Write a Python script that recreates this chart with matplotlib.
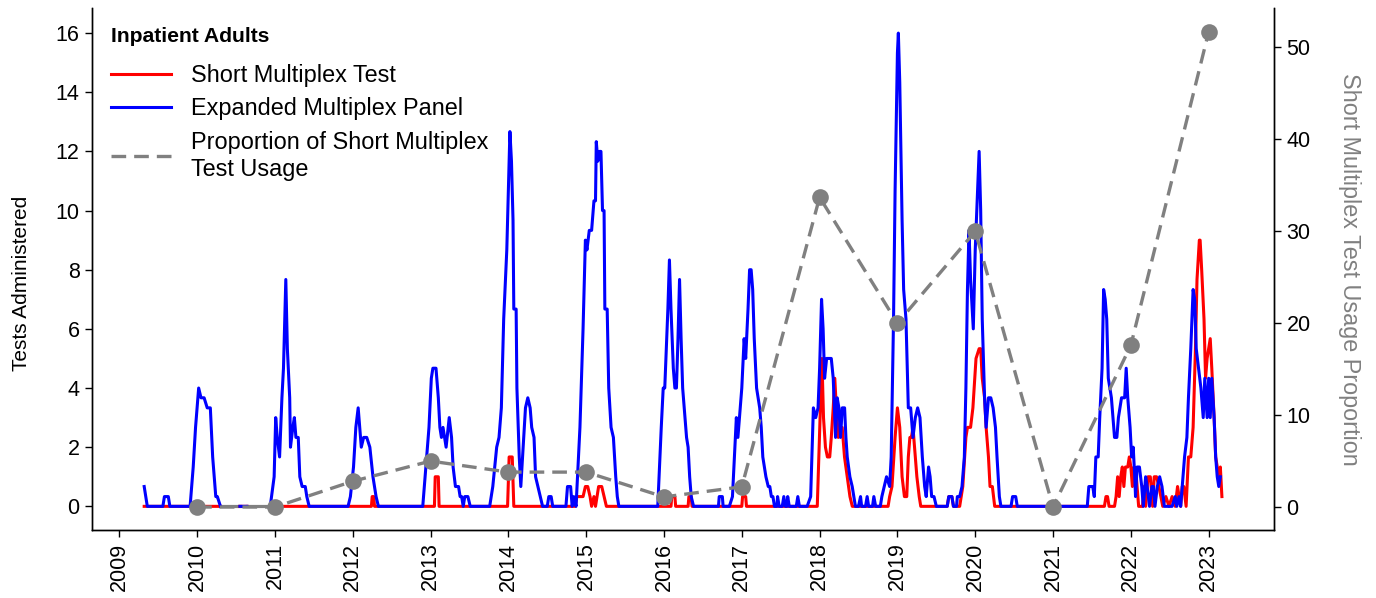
import numpy as np
import matplotlib
matplotlib.use("Agg")
import matplotlib.pyplot as plt
from matplotlib.lines import Line2D

plt.rcParams['font.family'] = ['Liberation Sans', 'DejaVu Sans']

# ---------------- data (decimal year, value) ----------------
# Expanded Multiplex Panel (weekly tests, smoothed)
blue_t = [2009.32, 2009.36, 2009.56, 2009.58, 2009.63, 2009.65, 2009.91, 2009.95, 2009.98, 2010.02,
          2010.05, 2010.09, 2010.13, 2010.17, 2010.20, 2010.24, 2010.26, 2010.30, 2010.31,
          2010.55, 2010.64, 2010.65,
          2010.94, 2010.99, 2011.01, 2011.03, 2011.06, 2011.09, 2011.11, 2011.14, 2011.16, 2011.19,
          2011.20, 2011.23, 2011.25, 2011.27, 2011.30, 2011.32, 2011.35, 2011.39, 2011.41, 2011.44,
          2011.94, 2011.97, 2012.01, 2012.04, 2012.07, 2012.11, 2012.14, 2012.18, 2012.22, 2012.26,
          2012.30, 2012.33,
          2012.90, 2012.95, 2012.98, 2013.01, 2013.03, 2013.07, 2013.10, 2013.12, 2013.14, 2013.16,
          2013.18, 2013.20, 2013.24, 2013.27, 2013.29, 2013.32, 2013.36, 2013.38, 2013.40, 2013.42,
          2013.44, 2013.48, 2013.51,
          2013.76, 2013.80, 2013.85, 2013.88, 2013.91, 2013.94, 2013.98, 2014.00, 2014.02, 2014.04,
          2014.06, 2014.07, 2014.10, 2014.11, 2014.14, 2014.16, 2014.19, 2014.22, 2014.25, 2014.28,
          2014.30, 2014.33, 2014.35, 2014.38, 2014.41, 2014.44, 2014.50, 2014.52, 2014.55, 2014.57,
          2014.74, 2014.76, 2014.80, 2014.82, 2014.84, 2014.87,
          2014.92, 2014.96, 2014.99, 2015.01, 2015.04, 2015.07, 2015.10, 2015.12, 2015.13, 2015.15,
          2015.17, 2015.19, 2015.21, 2015.23, 2015.24, 2015.27, 2015.29, 2015.32, 2015.35, 2015.38,
          2015.40, 2015.42,
          2015.92, 2015.965, 2015.99, 2016.01, 2016.03, 2016.05, 2016.07, 2016.09, 2016.12, 2016.14,
          2016.16, 2016.18, 2016.20, 2016.22, 2016.24, 2016.27, 2016.29, 2016.31, 2016.33, 2016.35,
          2016.38, 2016.70, 2016.71, 2016.75, 2016.76,
          2016.84, 2016.88, 2016.93, 2016.95, 2016.97, 2017.00, 2017.03, 2017.05, 2017.08, 2017.10,
          2017.12, 2017.14, 2017.16, 2017.19, 2017.21, 2017.23, 2017.25, 2017.27, 2017.29, 2017.31,
          2017.34, 2017.36, 2017.38, 2017.40, 2017.42, 2017.45, 2017.46, 2017.48, 2017.52, 2017.54,
          2017.56, 2017.58, 2017.59, 2017.61, 2017.70, 2017.72, 2017.74,
          2017.84, 2017.885, 2017.92, 2017.95, 2017.98, 2018.00, 2018.025, 2018.045, 2018.064, 2018.09,
          2018.12, 2018.15, 2018.175, 2018.205, 2018.226, 2018.248, 2018.269, 2018.291, 2018.321, 2018.338,
          2018.355, 2018.389, 2018.419, 2018.44, 2018.46, 2018.50, 2018.526, 2018.54, 2018.59, 2018.611,
          2018.63, 2018.68, 2018.697, 2018.72, 2018.78, 2018.80, 2018.83, 2018.86, 2018.90, 2018.92,
          2018.95, 2018.97, 2019.00, 2019.012, 2019.03, 2019.06, 2019.08, 2019.11, 2019.14, 2019.17,
          2019.20, 2019.23, 2019.26, 2019.29, 2019.32, 2019.35, 2019.37, 2019.40, 2019.42, 2019.44,
          2019.47, 2019.50, 2019.64, 2019.66, 2019.70, 2019.72, 2019.76, 2019.77, 2019.80, 2019.83,
          2019.86, 2019.88, 2019.90, 2019.92, 2019.94, 2019.975, 2020.00, 2020.03, 2020.05, 2020.07,
          2020.09, 2020.12, 2020.14, 2020.17, 2020.20, 2020.23, 2020.26, 2020.28, 2020.31, 2020.33,
          2020.46, 2020.48, 2020.52, 2020.54,
          2021.44, 2021.46, 2021.51, 2021.53, 2021.55, 2021.58, 2021.60, 2021.63, 2021.65, 2021.67,
          2021.69, 2021.71, 2021.73, 2021.75, 2021.77, 2021.79, 2021.82, 2021.84, 2021.86, 2021.88,
          2021.90, 2021.92, 2021.94, 2021.96, 2021.99, 2022.01, 2022.03, 2022.05, 2022.06, 2022.08,
          2022.11, 2022.14, 2022.16, 2022.19, 2022.21, 2022.24, 2022.27, 2022.29, 2022.31, 2022.34,
          2022.37, 2022.40, 2022.43, 2022.53, 2022.57, 2022.59, 2022.62, 2022.64, 2022.66, 2022.69,
          2022.72, 2022.74, 2022.77, 2022.80, 2022.82, 2022.84, 2022.87, 2022.90, 2022.93, 2022.95,
          2022.98, 2023.00, 2023.02, 2023.04, 2023.07, 2023.09, 2023.11, 2023.13, 2023.15]
blue_v = [0.67, 0, 0, 0.33, 0.33, 0, 0, 1.33, 2.67, 4.0,
          3.67, 3.67, 3.33, 3.33, 1.67, 0.33, 0.33, 0, np.nan,
          0, 0, np.nan,
          0, 1.0, 3.0, 2.33, 1.67, 3.67, 4.67, 7.67, 5.33, 3.67,
          2.0, 2.67, 3.0, 2.33, 2.33, 1.0, 0.67, 0.67, 0.33, 0,
          0, 0.33, 1.33, 2.67, 3.33, 2.0, 2.33, 2.33, 2.0, 1.0,
          0.33, 0,
          0, 1.67, 2.67, 4.33, 4.67, 4.67, 3.67, 2.67, 2.33, 2.67,
          2.33, 2.0, 3.0, 2.33, 1.33, 0.67, 0.67, 0.33, 0.33, 0,
          0.33, 0.33, 0,
          0, 0.67, 2.0, 2.33, 3.33, 6.33, 8.67, 10.67, 12.67, 11.67,
          9.67, 6.67, 6.67, 4.0, 1.67, 0.67, 2.0, 3.33, 3.67, 3.33,
          2.67, 2.33, 1.0, 0.67, 0.33, 0, 0, 0.33, 0.33, 0,
          0, 0.67, 0.67, 0, 0.33, 0,
          2.67, 6.0, 9.0, 8.67, 9.33, 9.33, 10.33, 10.33, 12.33, 11.67,
          12.0, 12.0, 10.0, 10.0, 6.67, 6.67, 4.0, 2.67, 2.33, 1.0,
          0.33, 0,
          0, 2.67, 4.0, 4.0, 5.33, 6.67, 8.33, 6.67, 4.67, 4.0,
          4.0, 5.67, 7.67, 5.67, 4.0, 3.0, 2.33, 2.0, 1.0, 0.33,
          0, 0, 0.33, 0.33, 0,
          0, 0.33, 3.0, 2.33, 3.0, 4.0, 5.67, 5.0, 6.67, 8.0,
          8.0, 7.33, 5.67, 4.0, 3.67, 3.33, 2.67, 1.67, 1.33, 1.0,
          0.67, 0.67, 0.33, 0.33, 0, 0, 0.33, 0, 0, 0.33,
          0, 0, 0.33, 0, 0, 0.33, 0,
          0, 0.33, 3.33, 3.0, 3.33, 4.67, 7.0, 6.0, 4.33, 5.0,
          5.0, 5.0, 4.33, 2.33, 3.67, 3.33, 2.33, 3.33, 3.33, 2.33,
          1.67, 1.0, 0.67, 0.33, 0, 0, 0.33, 0, 0, 0.33,
          0, 0, 0.33, 0, 0, 0.33, 0.67, 1.0, 0.67, 1.67,
          6.33, 10.67, 15.33, 16.0, 14.33, 9.67, 7.33, 6.33, 3.33, 3.33,
          2.33, 3.0, 3.33, 3.0, 1.67, 0.67, 0.33, 1.33, 1.0, 0.33,
          0.33, 0, 0, 0.33, 0.33, 0, 0, 0.33, 0.33, 0.67,
          1.67, 4.0, 7.33, 9.33, 7.67, 6.0, 8.67, 10.67, 12.0, 10.0,
          6.33, 3.67, 2.67, 3.67, 3.67, 3.33, 2.67, 1.67, 0.33, 0,
          0, 0.33, 0.33, 0,
          0, 0.67, 0.67, 0.33, 1.67, 1.67, 3.0, 4.67, 7.33, 7.0,
          6.33, 4.33, 4.0, 3.67, 3.0, 2.33, 2.33, 3.0, 3.33, 3.67,
          3.67, 3.67, 4.67, 3.67, 2.67, 1.67, 2.0, 1.0, 0.33, 1.33,
          1.33, 0.67, 0, 1.0, 0.67, 0, 0.67, 0.67, 0, 0.67,
          1.0, 0.67, 0, 0, 0.33, 0, 0.33, 0, 0.67, 1.67,
          2.33, 3.67, 5.33, 7.33, 7.0, 5.33, 4.67, 4.0, 3.0, 4.33,
          3.0, 4.33, 3.0, 4.33, 3.0, 1.67, 1.0, 0.67, 1.0]

# Short Multiplex Test
red_t = [2009.32, 2010.30, 2010.31, 2010.55, 2010.64, 2010.65, 2010.94,
         2012.24, 2012.25, 2012.27, 2012.28,
         2013.05, 2013.06, 2013.10, 2013.11,
         2013.99, 2014.01, 2014.05, 2014.07,
         2014.86, 2014.88, 2014.96, 2014.99, 2015.02, 2015.05, 2015.07, 2015.10, 2015.12, 2015.14,
         2015.16, 2015.20, 2015.23, 2015.26,
         2016.09, 2016.10, 2016.14, 2016.15, 2016.31, 2016.32, 2016.35, 2016.36,
         2017.00, 2017.01, 2017.05, 2017.06,
         2017.97, 2017.99, 2018.01, 2018.03, 2018.05, 2018.075, 2018.10, 2018.13, 2018.15, 2018.175,
         2018.195, 2018.215, 2018.24, 2018.26, 2018.29, 2018.32, 2018.355, 2018.39, 2018.42,
         2018.88, 2018.90, 2018.93, 2018.97, 2019.00, 2019.03, 2019.06, 2019.09, 2019.12, 2019.14,
         2019.16, 2019.18, 2019.20, 2019.23, 2019.25, 2019.28, 2019.30,
         2019.64, 2019.66, 2019.70, 2019.72, 2019.80, 2019.82, 2019.84, 2019.88, 2019.90, 2019.94,
         2019.97, 2020.01, 2020.05, 2020.07, 2020.09, 2020.12, 2020.14, 2020.17, 2020.19, 2020.22,
         2020.25,
         2021.66, 2021.68, 2021.70, 2021.72, 2021.79, 2021.81, 2021.83, 2021.85, 2021.87, 2021.89,
         2021.91, 2021.93, 2021.96, 2021.98, 2022.00, 2022.02, 2022.04, 2022.07, 2022.10, 2022.15,
         2022.17, 2022.19, 2022.22, 2022.25, 2022.28, 2022.30, 2022.33, 2022.36, 2022.41, 2022.45,
         2022.49, 2022.53, 2022.57, 2022.60, 2022.62, 2022.64, 2022.66, 2022.68, 2022.71, 2022.74,
         2022.77, 2022.80, 2022.83, 2022.85, 2022.88, 2022.89, 2022.91, 2022.94, 2022.96, 2022.98,
         2023.00, 2023.02, 2023.04, 2023.07, 2023.09, 2023.11, 2023.13, 2023.15, 2023.17]
red_v = [0, 0, np.nan, 0, 0, np.nan, 0,
         0, 0.33, 0.33, 0,
         0, 1.0, 1.0, 0,
         0, 1.67, 1.67, 0,
         0, 0.33, 0.33, 0.67, 0.67, 0.33, 0, 0.33, 0, 0.33,
         0.67, 0.67, 0.33, 0,
         0, 0.33, 0.33, 0, 0, 0.33, 0.33, 0,
         0, 0.33, 0.33, 0,
         0, 1.67, 3.33, 5.0, 3.0, 2.0, 1.67, 1.67, 2.33, 3.33,
         4.33, 3.33, 2.33, 2.67, 2.67, 1.67, 1.0, 0.33, 0,
         0, 0.33, 0.67, 2.33, 3.33, 2.67, 1.0, 0.33, 0.33, 1.67,
         2.33, 2.33, 2.67, 1.67, 1.0, 0.33, 0,
         0, 0.33, 0.33, 0, 0, 0.33, 0.67, 2.33, 2.67, 2.67,
         3.33, 5.0, 5.33, 5.33, 4.33, 3.67, 2.67, 1.67, 0.67, 0.67,
         0,
         0, 0.33, 0.33, 0, 0, 0.33, 1.0, 0.33, 1.0, 1.33,
         0.67, 1.33, 1.33, 1.67, 1.33, 0.67, 1.33, 1.0, 0, 0,
         0.67, 0, 1.0, 1.0, 0, 1.0, 1.0, 0.67, 0, 0.33,
         0, 0.33, 0, 0.67, 0.33, 0, 0.67, 0.67, 0, 1.67,
         1.67, 2.67, 5.33, 7.67, 9.0, 9.0, 8.0, 6.33, 4.33, 5.0,
         5.33, 5.67, 4.67, 3.0, 1.67, 1.33, 1.0, 1.33, 0.33]

# Yearly proportion of Short Multiplex Test usage (%)
prop_years = [2010, 2011, 2012, 2013, 2014, 2015, 2016, 2017, 2018, 2019, 2020, 2021, 2022, 2023]
prop_values = [0.0, 0.0, 2.8, 5.0, 3.8, 3.8, 1.1, 2.2, 33.7, 20.0, 30.0, 0.0, 17.6, 51.7]

# periods without weekly data
no_data_periods = [(2010.30, 2010.55), (2010.64, 2010.94)]

year_ticks = list(range(2009, 2024))
left_ticks = [0, 2, 4, 6, 8, 10, 12, 14, 16]
right_ticks = [0, 10, 20, 30, 40, 50]

# ---------------- figure ----------------
fig = plt.figure(figsize=(13.76, 5.98), dpi=100)
ax = fig.add_axes([0.0669, 0.1137, 0.8590, 0.8730])
ax2 = ax.twinx()

ax.plot(red_t, red_v, color='#ff0000', lw=2.2, zorder=2)
ax.plot(blue_t, blue_v, color='#0000ff', lw=2.2, zorder=3)

gray = '#808080'
for a, b in no_data_periods:
    ax.plot([a, b], [0, 0], color=gray, lw=2.3, zorder=1)

ax2.plot(prop_years, prop_values, color=gray, lw=2.4, dashes=(4.4, 2.4),
         marker='o', markersize=12, markeredgewidth=0, zorder=5)

ax.set_xlim(2008.65, 2023.84)
ax.set_ylim(-0.8, 16.85)
ax2.set_ylim(-2.5, 54.3)

ax.set_xticks(year_ticks)
ax.set_xticklabels([str(y) for y in year_ticks], rotation=90)
ax.set_yticks(left_ticks)
ax2.set_yticks(right_ticks)

for a in (ax, ax2):
    a.spines['top'].set_visible(False)
    a.tick_params(labelsize=15.5, length=5, width=1, pad=4)
    for s in a.spines.values():
        s.set_linewidth(1.0)

ax.set_ylabel('Tests Administered', fontsize=15)
ax.yaxis.set_label_coords(-0.052, 0.473)
ax2.set_ylabel('Short Multiplex Test Usage Proportion', fontsize=16.8, color=gray,
               rotation=270, labelpad=36)

ax2.set_zorder(ax.get_zorder() + 1)
ax2.patch.set_visible(False)

handles = [Line2D([], [], color='#ff0000', lw=2.2),
           Line2D([], [], color='#0000ff', lw=2.2),
           Line2D([], [], color=gray, lw=2.4, dashes=(4.4, 2.4))]
labels = ['Short Multiplex Test', 'Expanded Multiplex Panel',
          'Proportion of Short Multiplex\nTest Usage']
leg = ax2.legend(handles, labels, loc='upper left', bbox_to_anchor=(0.0, 1.0),
                 frameon=False, fontsize=16.9, title='Inpatient Adults',
                 title_fontproperties={'weight': 'bold', 'size': 15.2},
                 alignment='left', handlelength=2.55, handletextpad=0.85,
                 labelspacing=0.45, borderaxespad=0.4, borderpad=0.4)
leg._legend_box.sep = 13

fig.savefig('out.png', dpi=100)
